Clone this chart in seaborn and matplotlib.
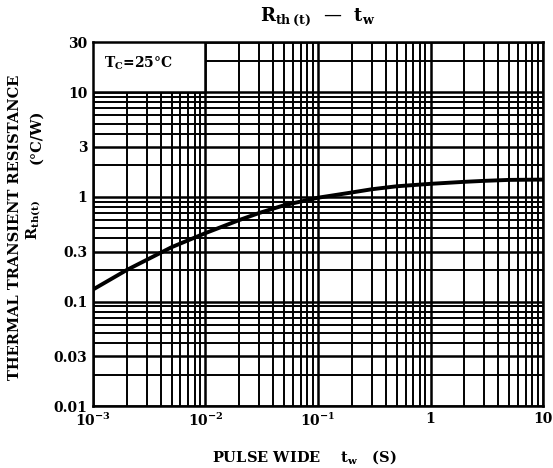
import matplotlib
matplotlib.use("Agg")
import matplotlib.pyplot as plt
import matplotlib.ticker as mticker
from matplotlib.patches import Rectangle
import seaborn as sns
import pandas as pd

# curve
pulse_width = [1e-3, 2e-3, 5e-3, 1e-2, 2e-2, 3e-2, 5e-2, 1e-1, 2e-1, 3e-1, 5e-1, 1.0, 2.0, 3.0, 5.0, 10.0]
rth = [0.13, 0.20, 0.33, 0.45, 0.60, 0.70, 0.83, 0.98, 1.10, 1.18, 1.26, 1.33, 1.39, 1.42, 1.45, 1.46]

x_ticks = [1e-3, 1e-2, 1e-1, 1, 10]
x_labels = ["10$^{-3}$", "10$^{-2}$", "10$^{-1}$", "1", "10"]
y_ticks = [0.01, 0.03, 0.1, 0.3, 1, 3, 10, 30]
y_labels = ["0.01", "0.03", "0.1", "0.3", "1", "3", "10", "30"]

df = pd.DataFrame({"tw": pulse_width, "rth": rth})

sns.set_style("white")
plt.rcParams["font.family"] = ["DejaVu Serif"]
plt.rcParams["font.weight"] = "bold"
plt.rcParams["mathtext.default"] = "regular"
plt.rcParams["text.color"] = "black"
plt.rcParams["axes.labelcolor"] = "black"
plt.rcParams["xtick.color"] = "black"
plt.rcParams["ytick.color"] = "black"

fig = plt.figure(figsize=(5.53, 4.68), dpi=100)
ax = fig.add_axes([0.168, 0.132, 0.814, 0.778])

ax.set_xscale("log")
ax.set_yscale("log")
ax.set_xlim(1e-3, 10)
ax.set_ylim(0.01, 30)

sns.lineplot(data=df, x="tw", y="rth", color="black", linewidth=2.8, ax=ax, zorder=5)

ax.xaxis.set_minor_locator(mticker.LogLocator(base=10, subs=range(2, 10), numticks=20))
ax.yaxis.set_minor_locator(mticker.LogLocator(base=10, subs=range(2, 10), numticks=20))
ax.grid(which="major", color="black", linewidth=1.8)
ax.grid(which="minor", color="black", linewidth=1.4)
ax.set_axisbelow(True)

ax.set_xticks(x_ticks)
ax.set_xticklabels(x_labels, fontsize=10, fontweight="bold")
ax.set_yticks(y_ticks)
ax.set_yticklabels(y_labels, fontsize=10, fontweight="bold")
ax.xaxis.set_minor_formatter(mticker.NullFormatter())
ax.yaxis.set_minor_formatter(mticker.NullFormatter())
ax.tick_params(which="both", length=0, pad=4)

for s in ax.spines.values():
    s.set_color("black")
    s.set_linewidth(1.8)

# white label box in the top-left cell
ax.add_patch(Rectangle((1e-3, 10), 1e-2 - 1e-3, 20, facecolor="white",
                       edgecolor="black", linewidth=1.8, zorder=3))
ax.text(1.25e-3, 19, "T$_C$=25°C", fontsize=10, fontweight="bold",
        va="center", ha="left", zorder=4)

ax.set_title("R$_{th\\,(t)}$  —  t$_w$", fontsize=13, fontweight="bold", pad=15)
ax.set_xlabel("PULSE WIDE    t$_w$   (S)", fontsize=10.5, fontweight="bold")
ax.xaxis.set_label_coords(0.47, -0.115)
ax.set_ylabel("")  # seaborn put the column name here

# y label: first line, then R_th(t) and unit in a second column
fig.text(0.027, 0.515, "THERMAL TRANSIENT RESISTANCE", rotation=90, fontsize=10.5,
         fontweight="bold", ha="center", va="center")
fig.text(0.062, 0.53, "R$_{th(t)}$", rotation=90, fontsize=10.5,
         fontweight="bold", ha="center", va="center")
fig.text(0.066, 0.708, "(°C/W)", rotation=90, fontsize=10.5,
         fontweight="bold", ha="center", va="center")

fig.savefig("out.png", dpi=100)
